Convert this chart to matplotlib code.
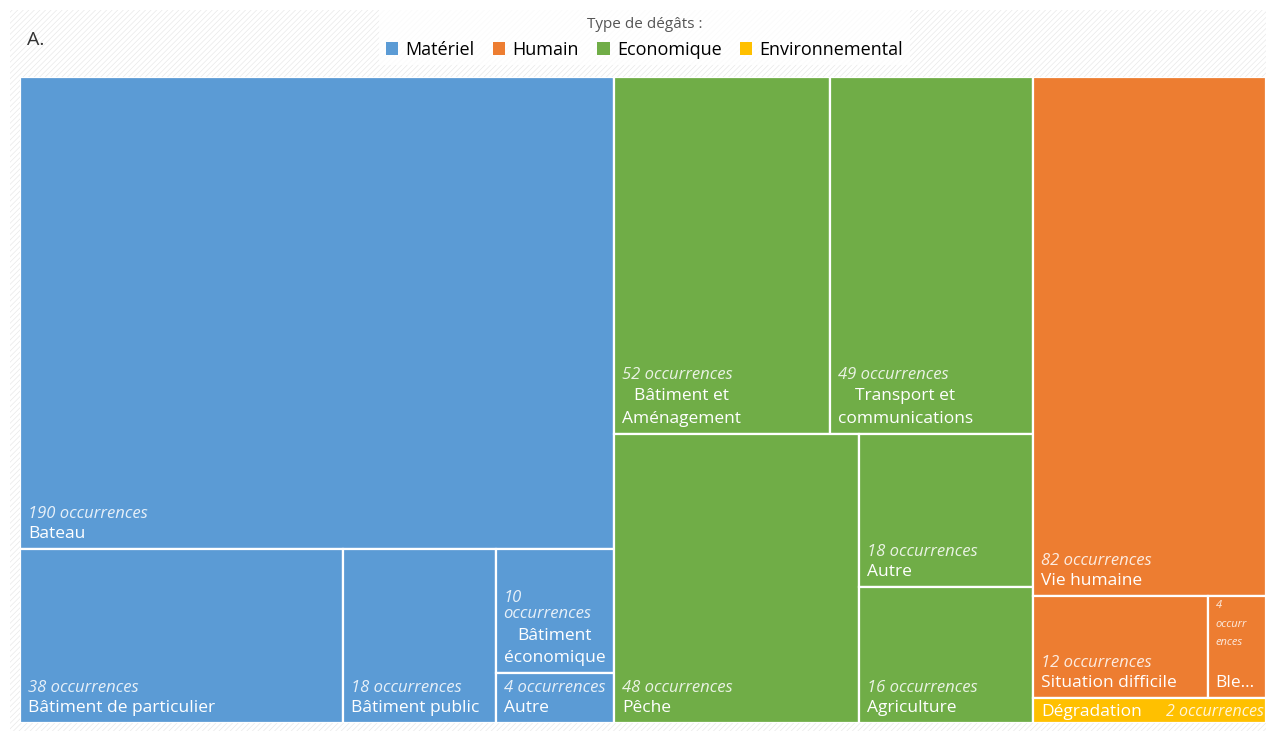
import matplotlib.pyplot as plt
from matplotlib.patches import Patch, Rectangle

# Data
groups = ['Matériel', 'Economique', 'Humain', 'Environnemental']
group_colors = ['#5B9BD5', '#70AD47', '#ED7D31', '#FFC000']
legend_order = ['Matériel', 'Humain', 'Economique', 'Environnemental']

materiel_labels = ['Bateau', 'Bâtiment de particulier', 'Bâtiment public', 'Bâtiment\néconomique', 'Autre']
materiel_values = [190, 38, 18, 10, 4]
economique_labels = ['Bâtiment et\nAménagement', 'Transport et\ncommunications', 'Pêche', 'Autre', 'Agriculture']
economique_values = [52, 49, 48, 18, 16]
humain_labels = ['Vie humaine', 'Situation difficile', 'Ble...']
humain_values = [82, 12, 4]
environnemental_labels = ['Dégradation']
environnemental_values = [2]

group_labels = [materiel_labels, economique_labels, humain_labels, environnemental_labels]
group_values = [materiel_values, economique_values, humain_values, environnemental_values]

FONT = 'Open Sans'
W, H = 1246, 646          # treemap size in pixels (axes data units)
MIN_SHARE = 4             # smallest group weight used for the layout
NAME_SIZE, OCC_SIZE = 12.5, 12


def worst(row, side):
    s = sum(row)
    return max(max(side * side * r / (s * s), s * s / (side * side * r)) for r in row)


def squarify(values, x, y, w, h):
    total = sum(values)
    areas = [v * w * h / total for v in values]
    rects = []
    while areas:
        side = min(w, h)
        row = [areas.pop(0)]
        while areas and worst(row + [areas[0]], side) <= worst(row, side):
            row.append(areas.pop(0))
        s = sum(row)
        if w >= h:
            cw = s / h
            yy = y
            for a in row:
                rects.append((x, yy, cw, a / cw))
                yy += a / cw
            x += cw
            w -= cw
        else:
            rh = s / w
            xx = x
            for a in row:
                rects.append((xx, y, a / rh, rh))
                xx += a / rh
            y += rh
            h -= rh
    return rects


fig = plt.figure(figsize=(12.66, 7.31), dpi=100)
plt.rcParams['hatch.linewidth'] = 0.5

# light hatched background
fig.patches.append(Rectangle((0.008, 0), 0.992, 0.986, transform=fig.transFigure,
                             facecolor='white', edgecolor='#e9e9e9', hatch='//////',
                             lw=0, zorder=-10))

ax = fig.add_axes([20 / 1266, 8 / 731, W / 1266, H / 731])
ax.set_xlim(0, W)
ax.set_ylim(H, 0)
ax.axis('off')

totals = [max(sum(v), MIN_SHARE) for v in group_values]
group_rects = squarify(totals, 0, 0, W, H)

for (gx, gy, gw, gh), color, labels, values in zip(group_rects, group_colors, group_labels, group_values):
    cells = squarify(values, gx, gy, gw, gh)
    for (x, y, w, h), name, v in zip(cells, labels, values):
        ax.add_patch(Rectangle((x, y), w, h, facecolor=color, edgecolor='white', lw=1.6))
        occ = f'{v} occurrences'
        if h < 40:
            # thin strip: name and count on one line
            ax.text(x + 8, y + h - 7, name, color='white', fontsize=NAME_SIZE, family=FONT,
                    va='baseline', ha='left')
            ax.text(x + w - 2, y + h - 7, occ, color='white', alpha=0.85, fontsize=OCC_SIZE - 0.5,
                    family=FONT, style='italic', va='baseline', ha='right')
            continue
        if w < 70:
            ax.text(x + 8, y + 4, f'{v}\noccurr\nences', color='white', alpha=0.85,
                    fontsize=8, family=FONT, style='italic', va='top', ha='left',
                    linespacing=1.9)
            ax.text(x + 8, y + h - 11, name, color='white', fontsize=NAME_SIZE, family=FONT,
                    va='baseline', ha='left')
            continue
        if len(occ) * 8.2 > w - 6:
            occ = f'{v}\noccurrences'
        name_lines = name.count('\n') + 1
        # va='baseline' pins the last line of a multi-line text
        name_base = y + h - 11
        occ_base = name_base - (name_lines - 1) * 24 - 20
        ax.text(x + 8, name_base, name, color='white', fontsize=NAME_SIZE, family=FONT,
                va='baseline', ha='left', multialignment='center', linespacing=1.55)
        ax.text(x + 8, occ_base, occ, color='white', alpha=0.85,
                fontsize=OCC_SIZE, family=FONT, style='italic', va='baseline', ha='left',
                linespacing=1.0)

# legend
handles = [Patch(facecolor=group_colors[groups.index(g)], edgecolor='none') for g in legend_order]
leg = fig.legend(handles, legend_order, title='Type de dégâts :', loc='upper center',
                 bbox_to_anchor=(0.509, 0.998), ncol=4, frameon=True, fancybox=False,
                 handlelength=0.7, handleheight=0.7, handletextpad=0.4,
                 columnspacing=1.0, borderpad=0.35,
                 prop={'family': FONT, 'size': 13},
                 title_fontproperties={'family': FONT, 'size': 11})
leg.get_frame().set_edgecolor('none')
leg.get_frame().set_facecolor('white')
leg.get_title().set_color('#555555')

fig.text(27 / 1266, 1 - 40 / 731, 'A.', family=FONT, fontsize=14, color='#333333',
         va='center', ha='left')

fig.savefig('out.png', dpi=100)
